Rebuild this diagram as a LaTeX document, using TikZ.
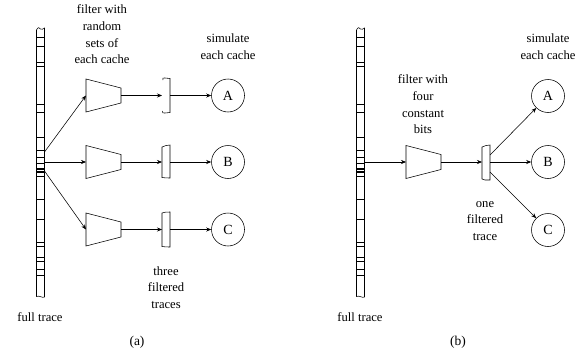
\documentclass[tikz,border=0pt]{standalone}
\usepackage{fontspec}
\setmainfont{Liberation Serif}
\usetikzlibrary{arrows.meta}
\tikzset{
  fulltrace/.pic={
    \draw (0,2) .. controls (1.5,-1) and (3,-1) .. (4,1) .. controls (5,3) and (6.5,0) .. (8,0)
      -- (8,269) .. controls (6,270.5) and (3,267) .. (0,268.5) -- cycle;
    \foreach \t in {9,18,34,38,76,84,109,122,129,135,140,141.5,143,144.5,148,171,191,214,218,229,233,241,247}
      \draw (0,\t) -- (8,\t);
  },
  filterbox/.pic={
    \draw (-17.5,-16.5) -- (17.5,-7.5) -- (17.5,7.5) -- (-17.5,16.5) -- cycle;
    \coordinate (-in) at (-17.5,0);
    \coordinate (-out) at (17.5,0);
  }
}
\begin{document}
\begin{tikzpicture}[x=1pt,y=-1pt, line width=0.55pt,
  lbl/.style={align=center, inner sep=0pt, font=\fontsize{12.6}{16.7}\selectfont},
  sublbl/.style={inner sep=0pt, font=\fontsize{13.5}{15}\selectfont},
  cache/.style={circle, draw, minimum size=33pt, inner sep=0pt, font=\fontsize{14}{15}\selectfont},
  arr/.style={-{Stealth[length=5pt,width=4pt]}}]
\useasboundingbox (0,0) rectangle (581,356);

% ================= (a) =================
\pic (tA) at (36.5,28) {fulltrace};
\coordinate (ao1) at (44.5,152);
\coordinate (ao2) at (44.5,162);
\coordinate (ao3) at (44.5,171);

\pic (fa1) at (103.5,95.5) {filterbox};
\pic (fa2) at (103.5,162) {filterbox};
\pic (fa3) at (103.5,229.5) {filterbox};

% filtered trace pieces
\draw (163,80) .. controls (162,78) and (163,77.5) .. (165,78) -- (170,78.5) -- (170,112.5)
  -- (165,113) .. controls (163,113.5) and (162,113) .. (162.5,111);
\draw (162,147) .. controls (164,145) and (167,146) .. (170,145) -- (170,178)
  .. controls (167,177) and (165,179) .. (162,177.5) -- cycle;
\draw (162,213) .. controls (164,211) and (167,213) .. (170,212) -- (170,247)
  .. controls (167,246) and (165,248) .. (162,246.5) -- cycle;
\coordinate (sa1i) at (162,95.5);  \coordinate (sa1o) at (170,95.5);
\coordinate (sa2i) at (162,162);   \coordinate (sa2o) at (170,162);
\coordinate (sa3i) at (162,229.5); \coordinate (sa3o) at (170,229.5);

\node[cache] (aA) at (228,95.5) {A};
\node[cache] (aB) at (228,162) {B};
\node[cache] (aC) at (228,229.5) {C};

\draw[arr] (ao1) -- (fa1-in);
\draw[arr] (ao2) -- (fa2-in);
\draw[arr] (ao3) -- (fa3-in);
\draw[arr] (fa1-out) -- (sa1i);
\draw[arr] (fa2-out) -- (sa2i);
\draw[arr] (fa3-out) -- (sa3i);
\draw[arr] (sa1o) -- (aA);
\draw[arr] (sa2o) -- (aB);
\draw[arr] (sa3o) -- (aC);

\node[lbl, anchor=north] (la1) at (102,4.5) {filter with\\random\\sets of\\each cache};
\node[lbl, anchor=north] (la2) at (228,33.5) {simulate\\each cache};
\node[lbl, anchor=north] (la3) at (166,266) {three\\filtered\\traces};
\node[lbl, anchor=north] (la4) at (40,312) {full trace};
\node[sublbl] (la5) at (137,342) {(a)};

% ================= (b) =================
\pic (tB) at (356.5,28) {fulltrace};
\coordinate (bo) at (364.5,162);
\pic (fb) at (423.5,162) {filterbox};
\draw (482,147) .. controls (484,145) and (487,146) .. (490,145) -- (490,180)
  .. controls (488,179) and (487,181) .. (485,180) -- (482,179) -- cycle;
\coordinate (sbi) at (482,162);
\coordinate (sbo1) at (490,155);
\coordinate (sbo2) at (490,162);
\coordinate (sbo3) at (490,172);

\node[cache] (bA) at (548,96) {A};
\node[cache] (bB) at (548,162) {B};
\node[cache] (bC) at (548,230) {C};

\draw[arr] (bo) -- (fb-in);
\draw[arr] (fb-out) -- (sbi);
\draw[arr] (sbo1) -- (bA);
\draw[arr] (sbo2) -- (bB);
\draw[arr] (sbo3) -- (bC);

\node[lbl, anchor=north] (lb1) at (423,74.5) {filter with\\four\\constant\\bits};
\node[lbl, anchor=north] (lb2) at (548,33.5) {simulate\\each cache};
\node[lbl, anchor=north] (lb3) at (485,201) {one\\filtered\\trace};
\node[lbl, anchor=north] (lb4) at (360,312) {full trace};
\node[sublbl] (lb5) at (458,342) {(b)};
\end{tikzpicture}
\end{document}
